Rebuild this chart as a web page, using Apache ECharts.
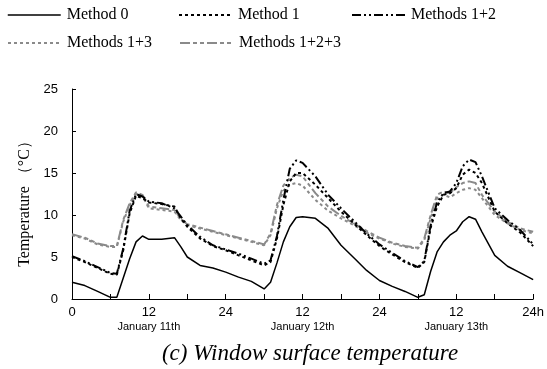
<!DOCTYPE html>
<html>
<head>
<meta charset="utf-8">
<script src="https://cdn.jsdelivr.net/npm/echarts@6/dist/echarts.min.js"></script>
<style>
  html, body { margin: 0; padding: 0; background: #fff; }
  #chart { width: 547px; height: 369px; }
</style>
</head>
<body>
<div id="chart"></div>
<script>
// Elapsed hours from 00:00 on January 11th
const hours = [0, 2, 4, 6, 7, 8, 9, 10, 11, 12, 14, 16, 17, 18, 20, 22, 24, 26, 28, 30,
  31, 32, 33, 34, 35, 36, 38, 40, 42, 44, 46, 48, 50, 52, 54, 55, 56, 57, 58, 59,
  60, 61, 62, 63, 64, 66, 68, 70, 72];

// Window surface temperature (°C)
const method0 = [2.0, 1.6, 0.9, 0.2, 0.2, 2.5, 4.8, 6.8, 7.5, 7.1, 7.1, 7.3, 6.2, 5.0, 4.0, 3.7, 3.2, 2.6, 2.1, 1.2,
  2.0, 4.3, 6.8, 8.6, 9.7, 9.8, 9.6, 8.4, 6.4, 4.9, 3.4, 2.2, 1.5, 0.9, 0.2, 0.5, 3.3, 5.6, 6.8, 7.6,
  8.1, 9.2, 9.8, 9.5, 8.0, 5.2, 3.9, 3.1, 2.3];
const method1 = [5.0, 4.4, 3.7, 3.0, 2.9, 5.8, 10.2, 12.3, 12.0, 11.5, 11.3, 11.0, 9.6, 8.6, 7.2, 6.3, 5.8, 5.2, 4.6, 4.0,
  4.4, 7.2, 11.2, 14.0, 15.0, 15.0, 13.6, 12.0, 10.4, 9.0, 7.6, 6.3, 5.3, 4.4, 3.7, 4.4, 8.5, 11.0, 12.4, 12.6,
  13.2, 14.8, 15.4, 15.0, 13.8, 10.4, 9.0, 7.9, 6.3];
const methods12 = [5.1, 4.5, 3.8, 3.1, 3.0, 6.0, 10.5, 12.5, 12.2, 11.6, 11.4, 10.8, 9.8, 8.8, 7.4, 6.4, 5.9, 5.4, 4.8, 4.2,
  4.6, 7.5, 11.8, 15.5, 16.5, 16.2, 14.6, 12.4, 10.8, 9.3, 7.8, 6.5, 5.5, 4.5, 3.8, 4.5, 8.8, 11.5, 12.6, 12.8,
  13.8, 15.8, 16.6, 16.3, 14.6, 10.8, 9.4, 8.2, 6.5];
const methods13 = [7.6, 7.2, 6.5, 6.2, 6.2, 9.2, 11.2, 12.5, 12.3, 10.8, 10.6, 10.4, 9.4, 8.8, 8.4, 8.0, 7.6, 7.2, 6.8, 6.4,
  7.6, 10.8, 12.9, 13.6, 13.8, 13.5, 11.8, 10.5, 9.6, 8.8, 7.9, 7.2, 6.6, 6.2, 6.0, 7.0, 9.6, 12.0, 12.4, 12.1,
  12.6, 13.0, 13.2, 13.0, 12.0, 10.0, 9.0, 8.2, 7.8];
const methods123 = [7.7, 7.3, 6.6, 6.3, 6.3, 9.4, 11.4, 12.7, 12.4, 11.0, 10.8, 10.6, 9.5, 8.9, 8.5, 8.1, 7.7, 7.3, 6.9, 6.5,
  7.8, 11.2, 13.5, 14.4, 14.8, 14.6, 12.6, 11.0, 9.9, 9.0, 8.1, 7.3, 6.7, 6.3, 6.1, 7.2, 10.0, 12.4, 12.8, 12.6,
  13.3, 13.8, 14.0, 13.8, 12.4, 10.4, 9.2, 8.4, 8.0];

// Tick labels along the time axis
const hourLabels = { 0: '0', 12: '12', 24: '24', 36: '12', 48: '24', 60: '12', 72: '24h' };
const dayLabels = { 12: 'January 11th', 36: 'January 12th', 60: 'January 13th' };

const seriesNames = ['Method 0', 'Method 1', 'Methods 1+2', 'Methods 1+3', 'Methods 1+2+3'];
const seriesValues = [method0, method1, methods12, methods13, methods123];

const GRAY = '#8a8a8a';
const lineStyles = [
  { color: '#000', width: 1.5, type: 'solid' },
  { color: '#000', width: 2, type: [3, 3] },
  { color: '#000', width: 2, type: [9, 3, 2, 3, 2, 3] },
  { color: GRAY, width: 2, type: [3, 3] },
  { color: GRAY, width: 2, type: [10, 3, 4, 3, 4, 3] }
];

const serif = '"Liberation Serif", "Times New Roman", serif';
const sans = '"Liberation Sans", Arial, sans-serif';

const series = seriesNames.map((name, i) => ({
  name: name,
  type: 'line',
  showSymbol: false,
  symbol: 'none',
  data: hours.map((h, k) => [h, seriesValues[i][k]]),
  lineStyle: lineStyles[i],
  itemStyle: { color: lineStyles[i].color },
  z: 5 - i
}));

// One legend block per entry, laid out in two rows; only the line sample is shown
const legendSlots = [
  { left: 7, top: 7 }, { left: 178, top: 7 }, { left: 351, top: 7 },
  { left: 7, top: 35 }, { left: 179, top: 35 }
];
const legends = seriesNames.map((name, i) => ({
  data: [name],
  left: legendSlots[i].left,
  top: legendSlots[i].top,
  orient: 'horizontal',
  itemWidth: 53,
  itemHeight: 16,
  padding: 0,
  selectedMode: false,
  itemStyle: { opacity: 0 },
  lineStyle: { type: 'inherit', width: 'inherit', color: 'inherit', opacity: 1 },
  textStyle: { fontFamily: serif, fontSize: 16, color: '#000', padding: [0, 0, 0, 1] }
}));

const chart = echarts.init(document.getElementById('chart'), null, { renderer: 'canvas' });
chart.setOption({
  animation: false,
  backgroundColor: '#fff',
  legend: legends,
  grid: { left: 72, right: 7, top: 89, bottom: 70, containLabel: false },
  xAxis: {
    type: 'value',
    min: 0, max: 72, interval: 6,
    axisLine: { lineStyle: { color: '#000', width: 1 } },
    axisTick: { inside: true, length: 5, lineStyle: { color: '#000' } },
    splitLine: { show: false },
    axisLabel: {
      margin: 6,
      color: '#000',
      formatter: function (v) {
        const h = hourLabels[v];
        if (h === undefined) return '';
        const d = dayLabels[v];
        return d ? '{n|' + h + '}\n{d|' + d + '}' : '{n|' + h + '}';
      },
      rich: {
        n: { fontFamily: sans, fontSize: 13, color: '#000', lineHeight: 15 },
        d: { fontFamily: sans, fontSize: 11, color: '#000', lineHeight: 13 }
      }
    }
  },
  yAxis: {
    type: 'value',
    min: 0, max: 25, interval: 5,
    axisLine: { show: true, lineStyle: { color: '#000', width: 1 } },
    axisTick: { show: true, inside: true, length: 4, lineStyle: { color: '#000' } },
    splitLine: { show: false },
    axisLabel: { margin: 14, fontFamily: sans, fontSize: 13, color: '#000' }
  },
  graphic: [
    {
      type: 'text',
      x: 25, y: 200,
      rotation: Math.PI / 2,
      style: {
        text: 'Temperature （°C）',
        fontFamily: serif, fontSize: 16, fill: '#000',
        textAlign: 'center', textVerticalAlign: 'middle'
      }
    },
    {
      type: 'text',
      x: 310, y: 354,
      style: {
        text: '(c) Window surface temperature',
        fontFamily: serif, fontSize: 23, fontStyle: 'italic', fill: '#000',
        textAlign: 'center', textVerticalAlign: 'middle'
      }
    }
  ],
  series: series
});
</script>
</body>
</html>
